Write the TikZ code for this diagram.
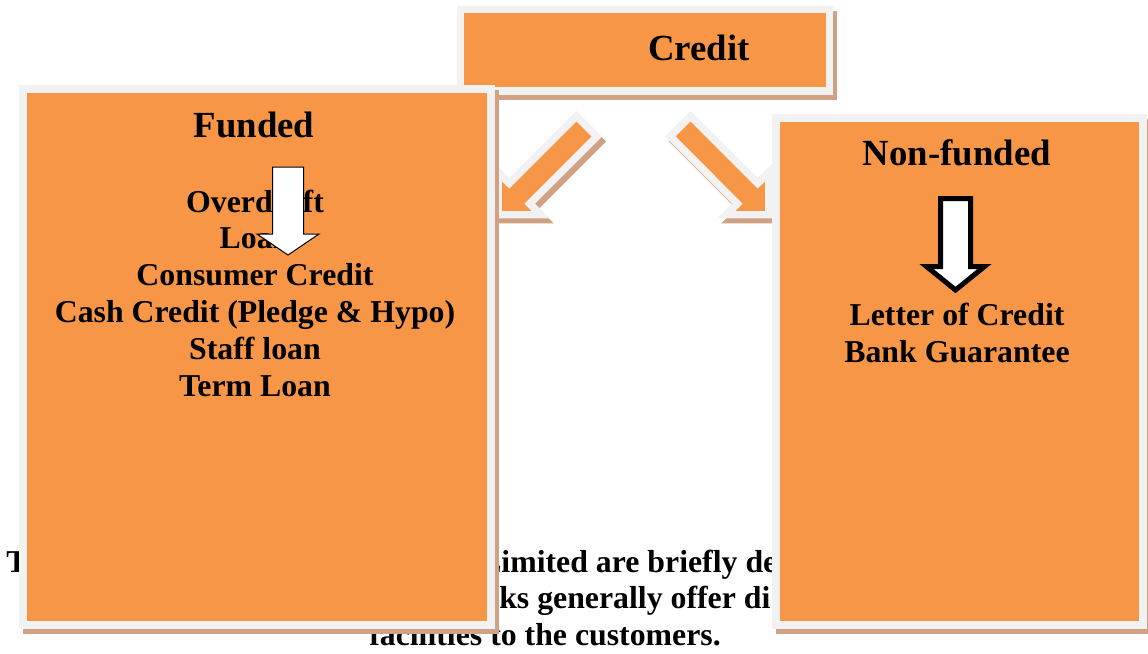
\documentclass[tikz,border=0pt]{standalone}
\usepackage{fontspec}
\setmainfont{Liberation Serif}
\usetikzlibrary{shadows}

\definecolor{boxorange}{HTML}{F79646}
\definecolor{boxrim}{HTML}{F2F2F2}
\definecolor{boxshade}{HTML}{D0A182}

\begin{document}
\begin{tikzpicture}[x=0.75pt,y=-0.75pt]
\tikzset{
  panel/.style={rectangle,draw=boxrim,fill=boxorange,line width=5.6pt,inner sep=0pt,
    drop shadow={shadow xshift=3pt,shadow yshift=-3.75pt,opacity=1,fill=boxshade,draw=boxshade,line width=5.6pt}},
  bigarrow/.style={draw=boxrim,fill=boxorange,line width=5.6pt,
    drop shadow={shadow xshift=3pt,shadow yshift=-3.75pt,opacity=1,fill=boxshade,draw=boxshade,line width=5.6pt}},
  heading/.style={font=\fontsize{27.6}{33}\selectfont\bfseries,inner sep=0pt,anchor=base},
  items/.style={font=\fontsize{23.85}{27.6}\selectfont\bfseries,inner sep=0pt,anchor=base,align=center},
  prose/.style={font=\fontsize{23.85}{27.6}\selectfont\bfseries,inner sep=0pt,anchor=base west},
  thinarrow/.style={draw=black,fill=white,line width=0.75pt},
  thickarrow/.style={draw=black,fill=white,line width=3.75pt}
}
\useasboundingbox (0,0) rectangle (1148,653);
% text running behind the boxes
\node[prose] (introT) at (6,572) {T};
\node[prose] (introA) at (480,572) {Limited are briefly de};
\node[prose] (introB) at (499,608) {ks generally offer di};
\node[prose] (introC) at (369,645) {facilities to the customers.};
% boxes and the two big arrows
\node[panel,minimum width=276.75pt,minimum height=61.1pt] (credit) at (645,50.25) {};
\draw[bigarrow] (498.25,214.75) -- (540.75,214.75) -- (529.65,203.65) -- (596.8,136.47)
  -- (576.5,116.18) -- (509.35,183.35) -- (498.25,172.25) -- cycle;
\draw[bigarrow] (768.75,214.75) -- (726.25,214.75) -- (737.35,203.65) -- (670.2,136.47)
  -- (690.5,116.18) -- (757.65,183.35) -- (768.75,172.25) -- cycle;
\node[panel,minimum width=351pt,minimum height=402pt] (funded) at (257,357) {};
\node[panel,minimum width=275.25pt,minimum height=380.25pt] (nonfunded) at (959.5,371.5) {};
% labels (base of a multi-line node is its last line)
\node[heading] (creditlbl) at (699,60) {Credit};
\node[heading] (fundedlbl) at (254,137) {Funded};
\node[items] (fundedlist) at (255,396) {Overdraft\\Loan\\Consumer Credit\\Cash Credit (Pledge \& Hypo)\\Staff loan\\Term Loan};
\node[heading] (nonfundedlbl) at (957,165) {Non-funded};
\node[items] (nonfundedlist) at (957,362) {Letter of Credit\\Bank Guarantee};
% small down arrows
\draw[thinarrow] (272.5,167) -- (303.5,167) -- (303.5,234) -- (319,234) -- (288,255)
  -- (257,234) -- (272.5,234) -- cycle;
\draw[thickarrow] (940.5,198.5) -- (970.5,198.5) -- (970.5,266.5) -- (984.5,266.5) -- (955.5,290)
  -- (926.5,266.5) -- (940.5,266.5) -- cycle;
\end{tikzpicture}
\end{document}
